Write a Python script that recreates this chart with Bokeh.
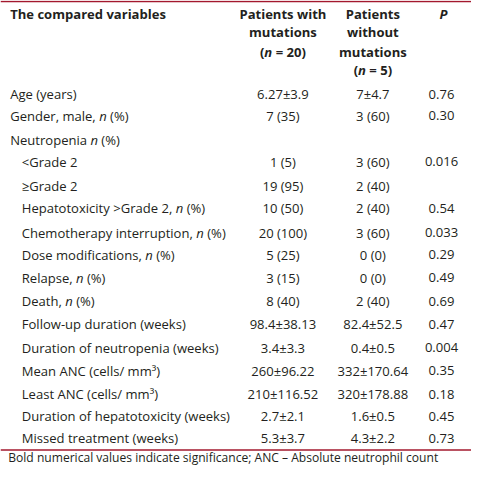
import subprocess
from bokeh.plotting import figure
from bokeh.models import Range1d, ColumnDataSource
from bokeh.embed import file_html
from bokeh.resources import INLINE
from bokeh.core.properties import value

# ---- data ----
labels = ["Age (years)", "Gender, male, n (%)", "Neutropenia n (%)", "<Grade 2", "≥Grade 2",
          "Hepatotoxicity >Grade 2, n (%)", "Chemotherapy interruption, n (%)",
          "Dose modifications, n (%)", "Relapse, n (%)", "Death, n (%)",
          "Follow-up duration (weeks)", "Duration of neutropenia (weeks)",
          "Mean ANC (cells/ mm³)", "Least ANC (cells/ mm³)",
          "Duration of hepatotoxicity (weeks)", "Missed treatment (weeks)"]
with_mut = ["6.27±3.9", "7 (35)", "", "1 (5)", "19 (95)", "10 (50)", "20 (100)", "5 (25)",
            "3 (15)", "8 (40)", "98.4±38.13", "3.4±3.3", "260±96.22", "210±116.52",
            "2.7±2.1", "5.3±3.7"]
without_mut = ["7±4.7", "3 (60)", "", "3 (60)", "2 (40)", "2 (40)", "3 (60)", "0 (0)",
               "0 (0)", "2 (40)", "82.4±52.5", "0.4±0.5", "332±170.64", "320±178.88",
               "1.6±0.5", "4.3±2.2"]
p_values = ["0.76", "0.30", "", "0.016", "", "0.54", "0.033", "0.29", "0.49", "0.69",
            "0.47", "0.004", "0.35", "0.18", "0.45", "0.73"]
header_first = "The compared variables"
header_with = ["Patients with", "mutations"]
header_with_n = "20"
header_without = ["Patients", "without", "mutations"]
header_without_n = "5"
header_p = "P"
footnote = "Bold numerical values indicate significance; ANC – Absolute neutrophil count"

# ---- layout / style ----
row_y = [97, 119, 144, 167, 192, 215, 240, 263, 287, 311, 335, 359, 383, 407, 430, 453]
indent_x = [10, 10, 10] + [22] * 13
col2_x, col3_x, col4_x = 292, 385, 456
head_y = [14, 33, 53, 72]
FONT_NAME = "Open Sans"
FONT = value(FONT_NAME)
S = 0.967                      # screen px per data unit
BODY_PX = 13.5 * S
HEAD_PX = 13.5 * S
FOOT_PX = 12.5 * S
RED = "#a3182e"
TXT = "#231f20"

# ---- text measuring (for mixed italic runs) ----
_fonts = {}
def _font(bold, italic):
    key = (bold, italic)
    if key in _fonts:
        return _fonts[key]
    f = None
    try:
        from PIL import ImageFont
        q = FONT_NAME + (":italic" if italic else "")
        path = subprocess.run(["fc-match", "-f", "%{file}", q],
                              capture_output=True, text=True).stdout.strip()
        f = ImageFont.truetype(path, 100)
        try:
            axes = f.get_variation_axes()
            vals = []
            for a in axes:
                nm = a.get("name", b"")
                nm = nm.decode() if isinstance(nm, bytes) else str(nm)
                if "eight" in nm or "wght" in nm:
                    vals.append(700 if bold else 400)
                else:
                    vals.append(100)
            f.set_variation_by_axes(vals)
        except Exception:
            pass
    except Exception:
        f = None
    _fonts[key] = f
    return f

def width(t, px, bold=False, italic=False):
    """width in data units"""
    f = _font(bold, italic)
    if f is None:
        w = 0.56 * px * len(t)
    else:
        w = f.getlength(t) * px / 100.0
    return w / S

p = figure(width=471, height=467, output_backend="svg", toolbar_location=None,
           x_range=Range1d(0, 487), y_range=Range1d(483, 0), min_border=0)
p.axis.visible = False
p.grid.visible = False
p.outline_line_color = None
p.background_fill_color = "white"
p.border_fill_color = "white"

def txt(x, y, t, align="left", style="normal", px=BODY_PX):
    p.text(x=[x], y=[y], text=[t], text_align=align, text_baseline="middle",
           text_font=FONT, text_font_size=value(f"{px:.2f}px"), text_font_style=style,
           text_color=TXT)

def runs(xc, y, parts, px, align="left"):
    """parts: list of (text, bold, italic); draws consecutive runs"""
    ws = [width(t, px, b, i) for t, b, i in parts]
    x = xc - sum(ws) / 2 if align == "center" else xc
    for (t, b, i), w in zip(parts, ws):
        style = ("bold " if b else "") + ("italic" if i else "")
        core = t.strip()
        lead = t[:len(t) - len(t.lstrip())]
        if core:
            txt(x + width(lead, px, b, i), y, core, style=(style.strip() or "normal"), px=px)
        x += w

# rules
p.segment(x0=[0, 0], y0=[1, 465], x1=[487, 487], y1=[1, 465], line_color=RED, line_width=1.5)

# header
txt(10, head_y[0], header_first, style="bold", px=HEAD_PX)
for i, t in enumerate(header_with):
    txt(col2_x, head_y[i], t, align="center", style="bold", px=HEAD_PX)
runs(col2_x, head_y[2], [("(", True, False), ("n", True, True), (" = " + header_with_n + ")", True, False)],
     HEAD_PX, align="center")
for i, t in enumerate(header_without):
    txt(col3_x, head_y[i], t, align="center", style="bold", px=HEAD_PX)
runs(col3_x, head_y[3], [("(", True, False), ("n", True, True), (" = " + header_without_n + ")", True, False)],
     HEAD_PX, align="center")
txt(col4_x + 2, head_y[0], header_p, align="center", style="bold italic", px=HEAD_PX)

# body
for i, lab in enumerate(labels):
    y = row_y[i]
    if " n (%)" in lab:
        pre = lab.replace(" n (%)", "")
        runs(indent_x[i], y, [(pre + " ", False, False), ("n", False, True), (" (%)", False, False)], BODY_PX)
    else:
        txt(indent_x[i], y, lab)

src = ColumnDataSource(dict(y=row_y, a=with_mut, b=without_mut, c=p_values))
for col, xx in (("a", col2_x), ("b", col3_x), ("c", col4_x)):
    p.text(x=xx, y="y", text=col, source=src, text_align="center", text_baseline="middle",
           text_font=FONT, text_font_size=value(f"{BODY_PX:.2f}px"), text_color=TXT)

txt(8, 473, footnote, px=FOOT_PX)

open("out.html", "w").write(file_html(p, INLINE))
